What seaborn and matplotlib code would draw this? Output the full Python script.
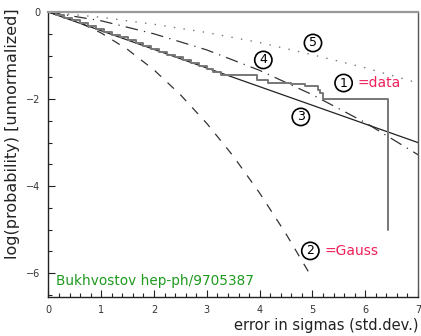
import matplotlib
matplotlib.use("Agg")
import matplotlib.pyplot as plt
import seaborn as sns
import pandas as pd
from matplotlib.ticker import MultipleLocator, FixedLocator

# ---- data ----
data_x = [0.0, 0.15, 0.3, 0.45, 0.6, 0.75, 0.9, 1.05, 1.2, 1.35, 1.5, 1.65, 1.8, 1.95,
          2.1, 2.25, 2.4, 2.55, 2.7, 2.85, 3.0, 3.12, 3.26, 3.95, 4.15, 4.6, 4.85,
          5.1, 5.15, 5.2, 6.43, 6.43]
data_y = [0.0, -0.06, -0.13, -0.19, -0.26, -0.32, -0.39, -0.45, -0.52, -0.58, -0.65,
          -0.71, -0.78, -0.85, -0.91, -0.98, -1.04, -1.11, -1.18, -1.25, -1.31, -1.38,
          -1.45, -1.56, -1.63, -1.66, -1.70, -1.79, -1.86, -2.00, -2.00, -5.00]

gauss_x = [0.0, 0.5, 1.0, 1.5, 2.0, 2.5, 3.0, 3.5, 4.0, 4.5, 4.93]
gauss_y = [0.0, -0.19, -0.48, -0.86, -1.33, -1.90, -2.56, -3.31, -4.16, -5.10, -5.98]

line3_x = [0.0, 7.0]
line3_y = [0.0, -3.0]

curve4_x = [0, 1, 2, 3, 4, 5, 6, 7]
curve4_y = [0.0, -0.20, -0.50, -0.87, -1.34, -1.90, -2.54, -3.28]

curve5_x = [0, 1, 2, 3, 4, 5, 6, 7]
curve5_y = [0.0, -0.12, -0.28, -0.47, -0.70, -0.98, -1.28, -1.63]

xticks = [0, 1, 2, 3, 4, 5, 6, 7]
yticks = [0, -2, -4, -6]
ytick_labels = ["0", "\u22122", "\u22124", "\u22126"]

labels = ["1", "2", "3", "4", "5"]
label_x = [5.59, 4.96, 4.78, 4.07, 5.01]
label_y = [-1.63, -5.49, -2.41, -1.10, -0.71]
names = ["=data", "=Gauss"]
name_x = [5.86, 5.23]
name_y = [-1.63, -5.49]

sns.set_theme(style="white")
plt.rcParams['font.family'] = ['DejaVu Sans']

fig = plt.figure(figsize=(4.21, 3.36), dpi=100)
ax = fig.add_axes([0.115, 0.116, 0.878, 0.848])

df_data = pd.DataFrame({"x": data_x, "y": data_y})
df_gauss = pd.DataFrame({"x": gauss_x, "y": gauss_y})
df_l3 = pd.DataFrame({"x": line3_x, "y": line3_y})
df_c4 = pd.DataFrame({"x": curve4_x, "y": curve4_y})
df_c5 = pd.DataFrame({"x": curve5_x, "y": curve5_y})

sns.lineplot(data=df_c5, x="x", y="y", ax=ax, color="#777777", lw=1.0,
             linestyle=(0, (1, 6)), estimator=None, sort=False)
sns.lineplot(data=df_c4, x="x", y="y", ax=ax, color="#333333", lw=0.9,
             linestyle=(0, (10, 5, 1, 5)), estimator=None, sort=False)
sns.lineplot(data=df_gauss, x="x", y="y", ax=ax, color="#333333", lw=0.9,
             linestyle=(0, (7, 7)), estimator=None, sort=False)
sns.lineplot(data=df_l3, x="x", y="y", ax=ax, color="#222222", lw=0.9,
             estimator=None, sort=False)
sns.lineplot(data=df_data, x="x", y="y", ax=ax, color="#777777", lw=1.4,
             drawstyle="steps-post", estimator=None, sort=False)

for t, xx, yy in zip(labels, label_x, label_y):
    ax.text(xx, yy, t, ha="center", va="center", fontsize=9, color="black",
            bbox=dict(boxstyle="circle,pad=0.17", fc="none", ec="black", lw=1.2))
for t, xx, yy in zip(names, name_x, name_y):
    ax.text(xx, yy, t, ha="left", va="center", fontsize=10, color="#f0205a")

ax.text(0.15, -6.18, "Bukhvostov hep-ph/9705387", ha="left", va="center",
        fontsize=9.8, color="#1f9a1f")

ax.set_xlim(0, 7)
ax.set_ylim(-6.55, 0)
ax.xaxis.set_major_locator(FixedLocator(xticks))
ax.xaxis.set_minor_locator(MultipleLocator(0.2))
ax.yaxis.set_major_locator(FixedLocator(yticks))
ax.yaxis.set_minor_locator(MultipleLocator(0.5))
ax.set_yticklabels(ytick_labels)
ax.tick_params(axis="both", which="both", direction="in", colors="#222222",
               labelsize=7, labelcolor="#333333")
ax.tick_params(axis="both", which="major", length=5, width=0.8)
ax.tick_params(axis="both", which="minor", length=3, width=0.8)
ax.tick_params(axis="x", pad=6)
ax.tick_params(axis="y", pad=6)
ax.tick_params(bottom=True, left=True, top=False, right=False, which="both")

for s in ["left", "bottom"]:
    ax.spines[s].set_color("#222222")
    ax.spines[s].set_linewidth(1.0)
ax.spines["top"].set_color("#999999")
ax.spines["top"].set_linewidth(1.6)
ax.spines["right"].set_color("#555555")
ax.spines["right"].set_linewidth(1.0)

ax.set_xlabel("error in sigmas (std.dev.)", fontsize=10.5, color="#222222", loc="right")
ax.xaxis.set_label_coords(1.0, -0.075)
ax.set_ylabel("log(probability) [unnormalized]", fontsize=11.5, color="#222222", loc="top")
ax.yaxis.set_label_coords(-0.078, 1.012)

fig.savefig("out.png", dpi=100)
